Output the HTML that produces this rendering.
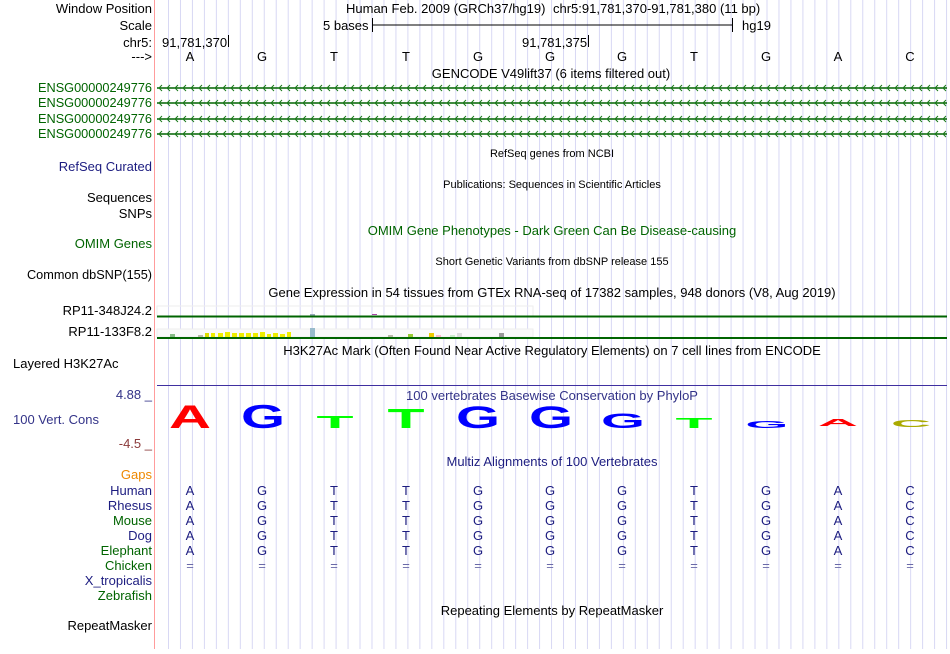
<!DOCTYPE html>
<html><head><meta charset="utf-8"><style>
body{margin:0;background:#fff;width:950px;height:649px;overflow:hidden;font-family:"Liberation Sans",sans-serif}
svg text{font-family:"Liberation Sans",sans-serif}
</style></head><body>
<svg width="950" height="649" xmlns="http://www.w3.org/2000/svg">
<defs>
<pattern id="grid" x="168" y="0" width="11.97" height="649" patternUnits="userSpaceOnUse">
<line x1="0.5" y1="0" x2="0.5" y2="649" stroke="#d8d8f4" stroke-width="1"/>
</pattern>
<pattern id="c1" x="157" y="83" width="8" height="10" patternUnits="userSpaceOnUse">
<polyline points="5,2 2,5 5,8" fill="none" stroke="#1a7a1a" stroke-width="1"/></pattern>
<pattern id="c2" x="157" y="98" width="8" height="10" patternUnits="userSpaceOnUse">
<polyline points="5,2 2,5 5,8" fill="none" stroke="#1a7a1a" stroke-width="1"/></pattern>
<pattern id="c3" x="157" y="114" width="8" height="10" patternUnits="userSpaceOnUse">
<polyline points="5,2 2,5 5,8" fill="none" stroke="#1a7a1a" stroke-width="1"/></pattern>
<pattern id="c4" x="157" y="129" width="8" height="10" patternUnits="userSpaceOnUse">
<polyline points="5,2 2,5 5,8" fill="none" stroke="#1a7a1a" stroke-width="1"/></pattern>
</defs>
<rect x="157" y="0" width="793" height="649" fill="url(#grid)"/>
<line x1="154.5" y1="0" x2="154.5" y2="649" stroke="#ff9c9c"/>

<g font-size="13" text-anchor="end" fill="#000">
<text x="152" y="13">Window Position</text>
<text x="152" y="30">Scale</text>
<text x="152" y="47">chr5:</text>
<text x="152" y="61">---&gt;</text>
<g fill="#006400" text-anchor="start">
<text x="38" y="92" textLength="114" lengthAdjust="spacingAndGlyphs">ENSG00000249776</text>
<text x="38" y="107" textLength="114" lengthAdjust="spacingAndGlyphs">ENSG00000249776</text>
<text x="38" y="123" textLength="114" lengthAdjust="spacingAndGlyphs">ENSG00000249776</text>
<text x="38" y="138" textLength="114" lengthAdjust="spacingAndGlyphs">ENSG00000249776</text>
</g>
<text x="152" y="171" fill="#1c1c80">RefSeq Curated</text>
<text x="152" y="202">Sequences</text>
<text x="152" y="218">SNPs</text>
<text x="152" y="248" fill="#006400">OMIM Genes</text>
<text x="27" y="279" text-anchor="start" textLength="125" lengthAdjust="spacingAndGlyphs">Common dbSNP(155)</text>
<text x="152" y="315">RP11-348J24.2</text>
<text x="152" y="336">RP11-133F8.2</text>
<text x="13" y="368" text-anchor="start">Layered H3K27Ac</text>
<text x="152" y="399" fill="#333388">4.88 _</text>
<text x="13" y="424" text-anchor="start" fill="#333388">100 Vert. Cons</text>
<text x="152" y="448" fill="#8b3a3a">-4.5 _</text>
<text x="152" y="479" fill="#ee8800">Gaps</text>
<text x="152" y="495" fill="#1c1c80">Human</text>
<text x="152" y="510" fill="#1c1c80">Rhesus</text>
<text x="152" y="525" fill="#006400">Mouse</text>
<text x="152" y="540" fill="#1c1c80">Dog</text>
<text x="152" y="555" fill="#006400">Elephant</text>
<text x="152" y="570" fill="#006400">Chicken</text>
<text x="152" y="585" fill="#1c1c80">X_tropicalis</text>
<text x="152" y="600" fill="#006400">Zebrafish</text>
<text x="152" y="630">RepeatMasker</text>
</g>

<g font-size="13" fill="#000">
<text x="346" y="13">Human Feb. 2009 (GRCh37/hg19)</text>
<text x="553" y="13">chr5:91,781,370-91,781,380 (11 bp)</text>
<text x="323" y="30">5 bases</text>
<line x1="372.5" y1="18" x2="372.5" y2="32" stroke="#000"/>
<line x1="372" y1="25" x2="733" y2="25" stroke="#000"/>
<line x1="732.5" y1="18" x2="732.5" y2="32" stroke="#000"/>
<text x="742" y="30">hg19</text>
<text x="162" y="47">91,781,370</text>
<line x1="228.5" y1="35" x2="228.5" y2="47" stroke="#000"/>
<text x="522" y="47">91,781,375</text>
<line x1="588.5" y1="35" x2="588.5" y2="47" stroke="#000"/>
<g text-anchor="middle">
<text x="190" y="61">A</text><text x="262" y="61">G</text><text x="334" y="61">T</text><text x="406" y="61">T</text><text x="478" y="61">G</text><text x="550" y="61">G</text><text x="622" y="61">G</text><text x="694" y="61">T</text><text x="766" y="61">G</text><text x="838" y="61">A</text><text x="910" y="61">C</text>
<text x="551" y="78">GENCODE V49lift37 (6 items filtered out)</text>
<text x="552" y="157" font-size="11">RefSeq genes from NCBI</text>
<text x="552" y="188" font-size="11">Publications: Sequences in Scientific Articles</text>
<text x="552" y="235" fill="#006400">OMIM Gene Phenotypes - Dark Green Can Be Disease-causing</text>
<text x="552" y="265" font-size="11">Short Genetic Variants from dbSNP release 155</text>
<text x="552" y="297">Gene Expression in 54 tissues from GTEx RNA-seq of 17382 samples, 948 donors (V8, Aug 2019)</text>
<text x="552" y="355">H3K27Ac Mark (Often Found Near Active Regulatory Elements) on 7 cell lines from ENCODE</text>
<text x="552" y="400" fill="#333388">100 vertebrates Basewise Conservation by PhyloP</text>
<text x="552" y="466" fill="#1c1c80">Multiz Alignments of 100 Vertebrates</text>
<text x="552" y="615">Repeating Elements by RepeatMasker</text>
</g>
</g>

<g>
<line x1="157" y1="88" x2="947" y2="88" stroke="#006400" stroke-width="1.5"/>
<rect x="157" y="83" width="790" height="10" fill="url(#c1)"/>
<line x1="157" y1="103" x2="947" y2="103" stroke="#006400" stroke-width="1.5"/>
<rect x="157" y="98" width="790" height="10" fill="url(#c2)"/>
<line x1="157" y1="119" x2="947" y2="119" stroke="#006400" stroke-width="1.5"/>
<rect x="157" y="114" width="790" height="10" fill="url(#c3)"/>
<line x1="157" y1="134" x2="947" y2="134" stroke="#006400" stroke-width="1.5"/>
<rect x="157" y="129" width="790" height="10" fill="url(#c4)"/>
</g>

<rect x="157" y="306" width="376" height="10" fill="none" stroke="#eee"/>
<rect x="310" y="314" width="5" height="2" fill="#9ab"/>
<rect x="372" y="314" width="5" height="1" fill="#a4a"/>
<line x1="157" y1="316.5" x2="947" y2="316.5" stroke="#006400" stroke-width="2"/>
<rect x="157" y="329" width="376" height="8" fill="#fafafa" stroke="#eee"/>
<g>
<rect x="170" y="334" width="5" height="3" fill="#8b8"/>
<rect x="198" y="335" width="5" height="2" fill="#bba"/>
<rect x="205" y="333" width="4" height="4" fill="#dd0"/>
<rect x="211" y="333" width="4" height="4" fill="#ee0"/>
<rect x="218" y="333" width="5" height="4" fill="#ee0"/>
<rect x="225" y="332" width="5" height="5" fill="#ee0"/>
<rect x="232" y="333" width="5" height="4" fill="#ee0"/>
<rect x="239" y="333" width="5" height="4" fill="#ee0"/>
<rect x="246" y="333" width="5" height="4" fill="#ee0"/>
<rect x="253" y="333" width="5" height="4" fill="#ee0"/>
<rect x="260" y="332" width="5" height="5" fill="#ee0"/>
<rect x="267" y="334" width="4" height="3" fill="#ee0"/>
<rect x="273" y="333" width="5" height="4" fill="#ee0"/>
<rect x="280" y="334" width="5" height="3" fill="#ee0"/>
<rect x="287" y="332" width="4" height="5" fill="#ee0"/>
<rect x="310" y="328" width="5" height="9" fill="#9bc"/>
<rect x="388" y="335" width="5" height="2" fill="#bba"/>
<rect x="408" y="334" width="5" height="3" fill="#9c3"/>
<rect x="429" y="333" width="5" height="4" fill="#ec0"/>
<rect x="436" y="335" width="5" height="2" fill="#fbc"/>
<rect x="450" y="335" width="5" height="2" fill="#cec"/>
<rect x="457" y="333" width="5" height="4" fill="#ddd"/>
<rect x="499" y="333" width="5" height="4" fill="#999"/>
</g>
<line x1="157" y1="338" x2="947" y2="338" stroke="#006400" stroke-width="2"/>

<line x1="157" y1="385.5" x2="947" y2="385.5" stroke="#4030a0"/>

<g font-weight="bold" text-anchor="middle">
<text x="190" y="428" font-size="43" fill="#f00" textLength="42" lengthAdjust="spacingAndGlyphs" transform="translate(190,428) scale(1,0.75) translate(-190,-428)">A</text>
<text x="263" y="428" font-size="44" fill="#00f" textLength="44" lengthAdjust="spacingAndGlyphs" transform="translate(263,428) scale(1,0.75) translate(-263,-428)">G</text>
<text x="335" y="428" font-size="24" fill="#0f0" textLength="37" lengthAdjust="spacingAndGlyphs" transform="translate(335,428) scale(1,0.75) translate(-335,-428)">T</text>
<text x="406" y="428" font-size="37" fill="#0f0" textLength="37" lengthAdjust="spacingAndGlyphs" transform="translate(406,428) scale(1,0.75) translate(-406,-428)">T</text>
<text x="478" y="428" font-size="42" fill="#00f" textLength="44" lengthAdjust="spacingAndGlyphs" transform="translate(478,428) scale(1,0.75) translate(-478,-428)">G</text>
<text x="551" y="428" font-size="42" fill="#00f" textLength="44" lengthAdjust="spacingAndGlyphs" transform="translate(551,428) scale(1,0.75) translate(-551,-428)">G</text>
<text x="623" y="428" font-size="28" fill="#00f" textLength="44" lengthAdjust="spacingAndGlyphs" transform="translate(623,428) scale(1,0.75) translate(-623,-428)">G</text>
<text x="694" y="428" font-size="20" fill="#0f0" textLength="37" lengthAdjust="spacingAndGlyphs" transform="translate(694,428) scale(1,0.75) translate(-694,-428)">T</text>
<text x="767" y="428" font-size="13" fill="#00f" textLength="43" lengthAdjust="spacingAndGlyphs" transform="translate(767,428) scale(1,0.75) translate(-767,-428)">G</text>
<text x="838" y="426" font-size="14" fill="#f00" textLength="40" lengthAdjust="spacingAndGlyphs" transform="translate(838,426) scale(1,0.75) translate(-838,-426)">A</text>
<text x="911" y="427" font-size="13" fill="#aa0" textLength="40" lengthAdjust="spacingAndGlyphs" transform="translate(911,427) scale(1,0.75) translate(-911,-427)">C</text>
</g>

<g font-size="13" fill="#1c1c80" text-anchor="middle">
<g>
<text x="190" y="495">A</text><text x="262" y="495">G</text><text x="334" y="495">T</text><text x="406" y="495">T</text><text x="478" y="495">G</text><text x="550" y="495">G</text><text x="622" y="495">G</text><text x="694" y="495">T</text><text x="766" y="495">G</text><text x="838" y="495">A</text><text x="910" y="495">C</text>
</g>
<g transform="translate(0,15)">
<text x="190" y="495">A</text><text x="262" y="495">G</text><text x="334" y="495">T</text><text x="406" y="495">T</text><text x="478" y="495">G</text><text x="550" y="495">G</text><text x="622" y="495">G</text><text x="694" y="495">T</text><text x="766" y="495">G</text><text x="838" y="495">A</text><text x="910" y="495">C</text>
</g>
<g transform="translate(0,30)">
<text x="190" y="495">A</text><text x="262" y="495">G</text><text x="334" y="495">T</text><text x="406" y="495">T</text><text x="478" y="495">G</text><text x="550" y="495">G</text><text x="622" y="495">G</text><text x="694" y="495">T</text><text x="766" y="495">G</text><text x="838" y="495">A</text><text x="910" y="495">C</text>
</g>
<g transform="translate(0,45)">
<text x="190" y="495">A</text><text x="262" y="495">G</text><text x="334" y="495">T</text><text x="406" y="495">T</text><text x="478" y="495">G</text><text x="550" y="495">G</text><text x="622" y="495">G</text><text x="694" y="495">T</text><text x="766" y="495">G</text><text x="838" y="495">A</text><text x="910" y="495">C</text>
</g>
<g transform="translate(0,60)">
<text x="190" y="495">A</text><text x="262" y="495">G</text><text x="334" y="495">T</text><text x="406" y="495">T</text><text x="478" y="495">G</text><text x="550" y="495">G</text><text x="622" y="495">G</text><text x="694" y="495">T</text><text x="766" y="495">G</text><text x="838" y="495">A</text><text x="910" y="495">C</text>
</g>
<g transform="translate(0,75)" fill="#6a6aa8">
<text x="190" y="495">=</text><text x="262" y="495">=</text><text x="334" y="495">=</text><text x="406" y="495">=</text><text x="478" y="495">=</text><text x="550" y="495">=</text><text x="622" y="495">=</text><text x="694" y="495">=</text><text x="766" y="495">=</text><text x="838" y="495">=</text><text x="910" y="495">=</text>
</g>
</g>
</svg>
</body></html>
